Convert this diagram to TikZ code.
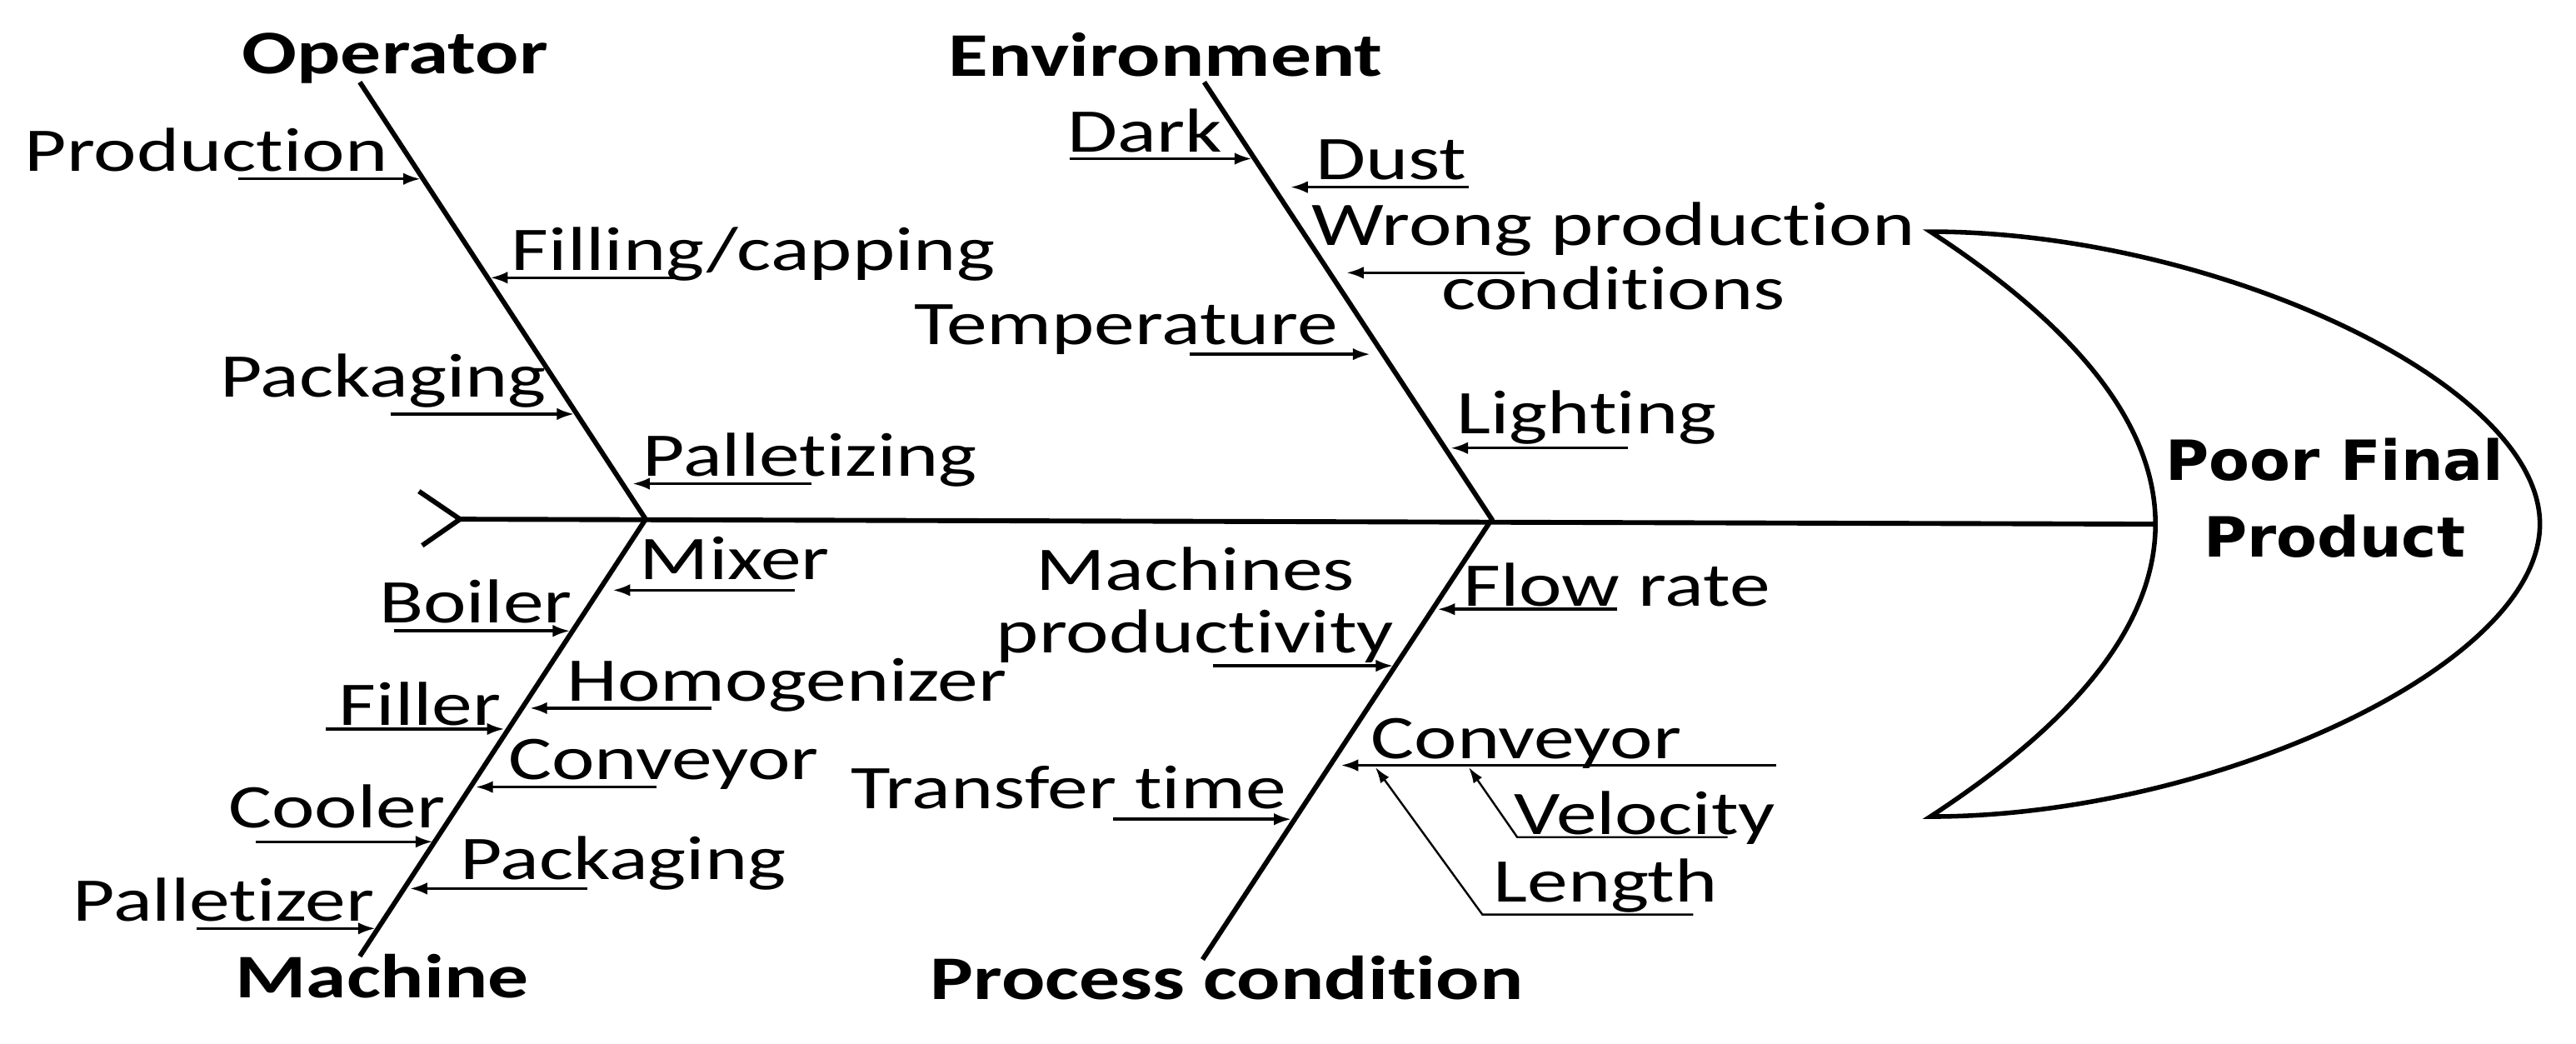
\documentclass[tikz,border=0pt]{standalone}
\usepackage{fontspec}
\setmainfont{Carlito}[FakeStretch=1.31,RawFeature={-liga;-clig;-calt;-dlig}]
\newfontfamily\headfont{DejaVu Sans}[FakeStretch=1.07]
\usetikzlibrary{arrows.meta}
\newcommand{\mytwoline}[2]{\vtop{\halign{\hfil##\hfil\cr #1\cr #2\cr}}}
\begin{document}
\begin{tikzpicture}[x=0.02cm,y=-0.02cm,
  bone/.style={line width=1.7pt},
  arr/.style={line width=1.0pt, -{Latex[length=6pt,width=4.2pt]}},
  thinarr/.style={line width=0.7pt, -{Latex[length=5.5pt,width=3.6pt]}},
  lbl/.style={inner sep=0pt, anchor=base west, font=\fontsize{21.5}{26}\selectfont},
  cat/.style={inner sep=0pt, anchor=base west, font=\fontsize{21.5}{26}\selectfont\bfseries},
  headline/.style={line width=1.6pt, line join=miter}]
\useasboundingbox (0,0) rectangle (1568,635);
% skeleton
\coordinate (opT) at (219,50);
\coordinate (J1) at (393,316);
\coordinate (maB) at (219,582);
\coordinate (enT) at (733,50);
\coordinate (J2) at (908,316);
\coordinate (prB) at (732,584);
\coordinate (tailtip) at (280,316);
\coordinate (chA) at (255,299);
\coordinate (chB) at (257,332);
\coordinate (hT) at (1175,141);
\coordinate (hR) at (1546,319);
\coordinate (hB) at (1175,497);
\coordinate (hI) at (1312,319);
\draw[bone] (chA) -- (tailtip) -- (chB);
\draw[bone] (tailtip) -- (hI);
\draw[bone] (opT) -- (J1) -- (maB);
\draw[bone] (enT) -- (J2) -- (prB);
\draw[headline] (hT) .. controls (1345,141) and (1546,232) .. (hR)
  .. controls (1546,406) and (1345,497) .. (hB)
  .. controls (1250,448) and (1312,388) .. (hI)
  .. controls (1312,250) and (1250,190) .. cycle;
\node[inner sep=0pt, anchor=base, font=\fontsize{19.2}{26.5}\selectfont\headfont\bfseries] (head) at (1421,292.4) {\mytwoline{Poor Final}{Product}};
% category labels
\node[cat] (operator) at (147,45) {Operator};
\node[cat] (environment) at (577,46.5) {Environment};
\node[cat] (machine) at (143,607.4) {Machine};
\node[cat] (process) at (566,608.4) {Process condition};
% Operator causes
\node[lbl] (production) at (14.7,104) {Production};
\node[lbl] (filling) at (311,164.5) {Filling/capping};
\node[lbl] (packagingA) at (133.7,241.6) {Packaging};
\node[lbl] (palletizing) at (391,289.7) {Palletizing};
\coordinate (a1t) at (145,108.9); \coordinate (a1h) at (256,108.9);
\coordinate (a2t) at (410,169); \coordinate (a2h) at (298.5,169);
\coordinate (a3t) at (237.6,252); \coordinate (a3h) at (349.5,252);
\coordinate (a4t) at (494,294.4); \coordinate (a4h) at (385,294.4);
\draw[arr] (a1t) -- (a1h);
\draw[arr] (a2t) -- (a2h);
\draw[arr] (a3t) -- (a3h);
\draw[arr] (a4t) -- (a4h);
% Machine causes
\node[lbl] (mixer) at (389,352.8) {Mixer};
\node[lbl] (boiler) at (230.4,379.3) {Boiler};
\node[lbl] (homog) at (344.8,426.8) {Homogenizer};
\node[lbl] (filler) at (206,441.5) {Filler};
\node[lbl] (conveyorA) at (309,474.3) {Conveyor};
\node[lbl] (cooler) at (138.8,503.9) {Cooler};
\node[lbl] (packagingB) at (279.6,535.5) {Packaging};
\node[lbl] (palletizer) at (44.1,560.8) {Palletizer};
\coordinate (b1t) at (483.6,359.2); \coordinate (b1h) at (373,359.2);
\coordinate (b2t) at (239.7,384); \coordinate (b2h) at (347,384);
\coordinate (b3t) at (433,431); \coordinate (b3h) at (322.5,431);
\coordinate (b4t) at (198.5,443.7); \coordinate (b4h) at (307,443.7);
\coordinate (b5t) at (399.5,479); \coordinate (b5h) at (289.5,479);
\coordinate (b6t) at (155.6,512.3); \coordinate (b6h) at (263.5,512.3);
\coordinate (b7t) at (357.4,540.8); \coordinate (b7h) at (249.5,540.8);
\coordinate (b8t) at (119.8,565.1); \coordinate (b8h) at (228.5,565.1);
\draw[arr] (b1t) -- (b1h);
\draw[arr] (b2t) -- (b2h);
\draw[arr] (b3t) -- (b3h);
\draw[arr] (b4t) -- (b4h);
\draw[arr] (b5t) -- (b5h);
\draw[arr] (b6t) -- (b6h);
\draw[arr] (b7t) -- (b7h);
\draw[arr] (b8t) -- (b8h);
% Environment causes
\node[lbl] (dark) at (649.6,92.6) {Dark};
\node[lbl] (dust) at (800.5,109.3) {Dust};
\node[inner sep=0pt, anchor=base, font=\fontsize{21.5}{22.2}\selectfont] (wrong) at (982,149.4) {\mytwoline{Wrong production}{conditions}};
\node[lbl] (temp) at (556,209.5) {Temperature};
\node[lbl] (lighting) at (886.4,263.7) {Lighting};
\coordinate (c1t) at (651,96.6); \coordinate (c1h) at (762,96.6);
\coordinate (c2t) at (894,113.9); \coordinate (c2h) at (785.5,113.9);
\coordinate (c3t) at (928,166); \coordinate (c3h) at (819.5,166);
\coordinate (c4t) at (724.4,215.6); \coordinate (c4h) at (834,215.6);
\coordinate (c5t) at (990.7,272.7); \coordinate (c5h) at (883,272.7);
\draw[arr] (c1t) -- (c1h);
\draw[arr] (c2t) -- (c2h);
\draw[arr] (c3t) -- (c3h);
\draw[arr] (c4t) -- (c4h);
\draw[arr] (c5t) -- (c5h);
% Process condition causes
\node[inner sep=0pt, anchor=base, font=\fontsize{21.5}{21.4}\selectfont] (machprod) at (727.5,359.5) {\mytwoline{Machines}{productivity}};
\node[lbl] (flow) at (890.5,368.7) {Flow rate};
\node[lbl] (conveyorB) at (834.2,461.6) {Conveyor};
\node[lbl] (velocity) at (921.3,508) {Velocity};
\node[lbl] (length) at (908.6,549.2) {Length};
\node[lbl] (transfer) at (517.6,492.2) {Transfer time};
\coordinate (d1t) at (984.3,370.8); \coordinate (d1h) at (875,370.8);
\coordinate (d2t) at (738.4,405.2); \coordinate (d2h) at (848,405.2);
\coordinate (d3t) at (1081,465.8); \coordinate (d3h) at (816.2,465.8);
\coordinate (d4t) at (677.4,498.6); \coordinate (d4h) at (786,498.6);
\coordinate (v1) at (1051.6,509.5); \coordinate (v2) at (923.5,509.5); \coordinate (v3) at (894,467);
\coordinate (l1) at (1030.6,556.6); \coordinate (l2) at (902.3,556.6); \coordinate (l3) at (837.2,467);
\draw[arr] (d1t) -- (d1h);
\draw[arr] (d2t) -- (d2h);
\draw[arr] (d3t) -- (d3h);
\draw[arr] (d4t) -- (d4h);
\draw[thinarr] (v1) -- (v2) -- (v3);
\draw[thinarr] (l1) -- (l2) -- (l3);
\end{tikzpicture}
\end{document}
